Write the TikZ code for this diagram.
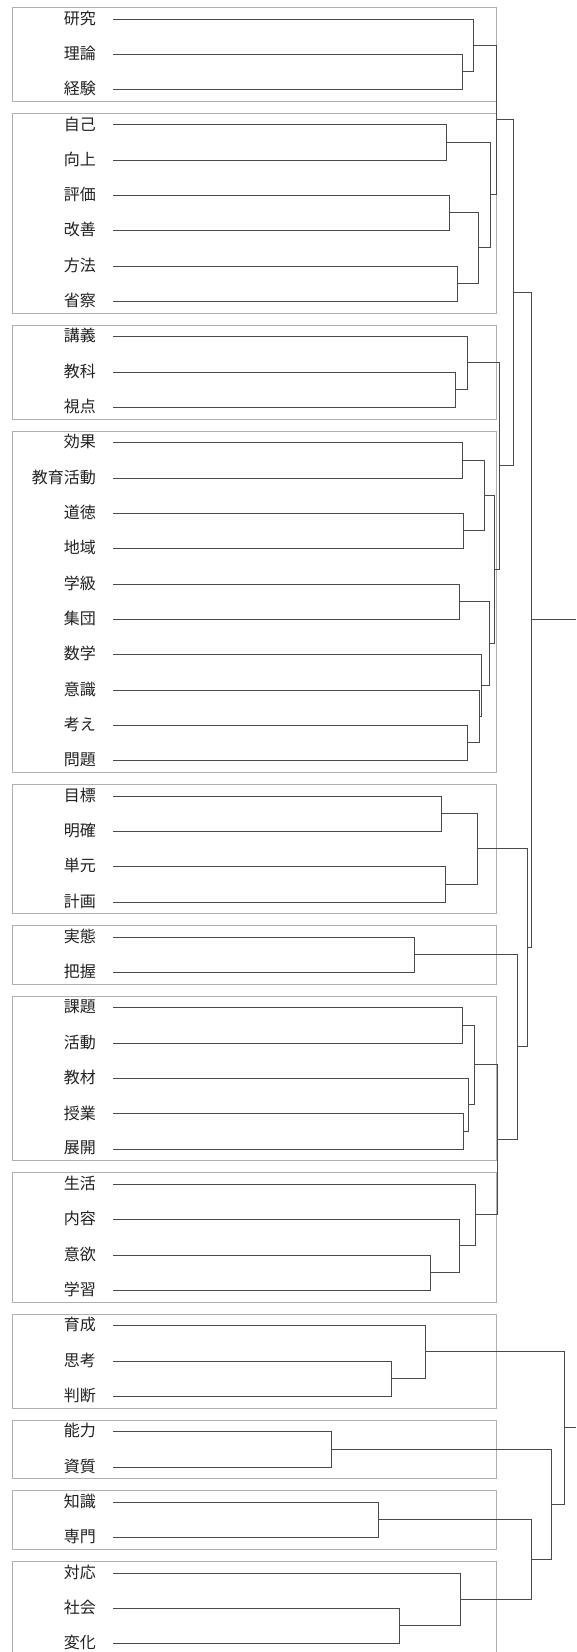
\documentclass[tikz,border=0pt]{standalone}
\usepackage{fontspec}
\setmainfont{Noto Sans CJK JP}
\usetikzlibrary{calc}
\definecolor{linec}{HTML}{4A4A4A}
\definecolor{boxc}{HTML}{B0B0B0}
\definecolor{textc}{HTML}{222222}
\newcommand{\dmerge}[4]{%
  \path let \p1=(#2), \p2=(#3) in coordinate (#1) at ({floor(#4)+0.5},{floor(0.5*\y1+0.5*\y2)+0.5});
  \draw[dline] (#2) -| (#1) |- (#3);}
\begin{document}
\begin{tikzpicture}[x=1pt,y=-1pt,
  dline/.style={draw=linec,line width=1.8pt},
  gbox/.style={draw=boxc,line width=1pt},
  lab/.style={anchor=east,inner sep=0pt,text=textc,font=\fontsize{16}{16}\selectfont}]
\fill[white] (0,0) rectangle (576,1652);
\useasboundingbox (0,0) rectangle (576,1652);
\coordinate (rt) at (576,0);
% group boxes
\foreach \a/\b in {0/2,3/8,9/11,12/21,22/25,26/27,28/32,33/36,37/39,40/41,42/43,44/46}
  \draw[gbox] (12.5,{floor(19+35.32*\a-11.7)+0.5}) rectangle (496.5,{floor(19+35.32*\b+11.7)+0.5});
% leaves
\foreach \t [count=\i from 0] in {研究,理論,経験,自己,向上,評価,改善,方法,省察,講義,教科,視点,効果,教育活動,道徳,地域,学級,集団,数学,意識,考え,問題,目標,明確,単元,計画,実態,把握,課題,活動,教材,授業,展開,生活,内容,意欲,学習,育成,思考,判断,能力,資質,知識,専門,対応,社会,変化}{
  \node[lab] (l\i) at (96,{19+35.32*\i-1}) {\t};
  \coordinate (p\i) at (113,{floor(19+35.32*\i)+0.5});
}
% upper tree
\dmerge{m1}{p1}{p2}{462}
\dmerge{m2}{p0}{m1}{473}
\dmerge{m3}{p3}{p4}{446}
\dmerge{m4}{p5}{p6}{449}
\dmerge{m5}{p7}{p8}{457.5}
\dmerge{m6}{m4}{m5}{478.3}
\dmerge{m7}{m3}{m6}{490.4}
\dmerge{g12}{m2}{m7}{496}
\dmerge{m10}{p10}{p11}{455.6}
\dmerge{m11}{p9}{m10}{467.7}
\dmerge{m12}{p12}{p13}{462.5}
\dmerge{m13}{p14}{p15}{463.4}
\dmerge{m14}{m12}{m13}{484.5}
\dmerge{m15}{p16}{p17}{459.3}
\dmerge{m16}{p20}{p21}{467.5}
\dmerge{m17}{p19}{m16}{479.6}
\dmerge{m18}{p18}{m17}{481.2}
\dmerge{m19}{m15}{m18}{489.3}
\dmerge{m20}{m14}{m19}{494.2}
\dmerge{m21}{m11}{m20}{499.2}
\dmerge{m22}{g12}{m21}{513.5}
\dmerge{m23}{p22}{p23}{441}
\dmerge{m24}{p24}{p25}{445.6}
\dmerge{m25}{m23}{m24}{477}
\dmerge{m26}{p26}{p27}{414.4}
\dmerge{m27}{p28}{p29}{462}
\dmerge{m28}{p31}{p32}{463}
\dmerge{m29}{p30}{m28}{468.2}
\dmerge{m30}{m27}{m29}{474.5}
\dmerge{m31}{p35}{p36}{430.6}
\dmerge{m32}{p34}{m31}{459.2}
\dmerge{m33}{p33}{m32}{475}
\dmerge{m34}{m30}{m33}{497.5}
\dmerge{m35}{m26}{m34}{517.3}
\dmerge{m36}{m25}{m35}{527.3}
\dmerge{m37}{m22}{m36}{531.7}
\draw[dline] (m37) -- (m37 -| rt);
% lower tree
\dmerge{b1}{p38}{p39}{391.6}
\dmerge{b2}{p37}{b1}{425}
\dmerge{b3}{p40}{p41}{331.4}
\dmerge{b4}{p42}{p43}{378.4}
\dmerge{b5}{p45}{p46}{399.7}
\dmerge{b6}{p44}{b5}{460.7}
\dmerge{b7}{b4}{b6}{531.6}
\dmerge{b8}{b3}{b7}{551.8}
\dmerge{b9}{b2}{b8}{564.7}
\draw[dline] (b9) -- (b9 -| rt);
\end{tikzpicture}
\end{document}
